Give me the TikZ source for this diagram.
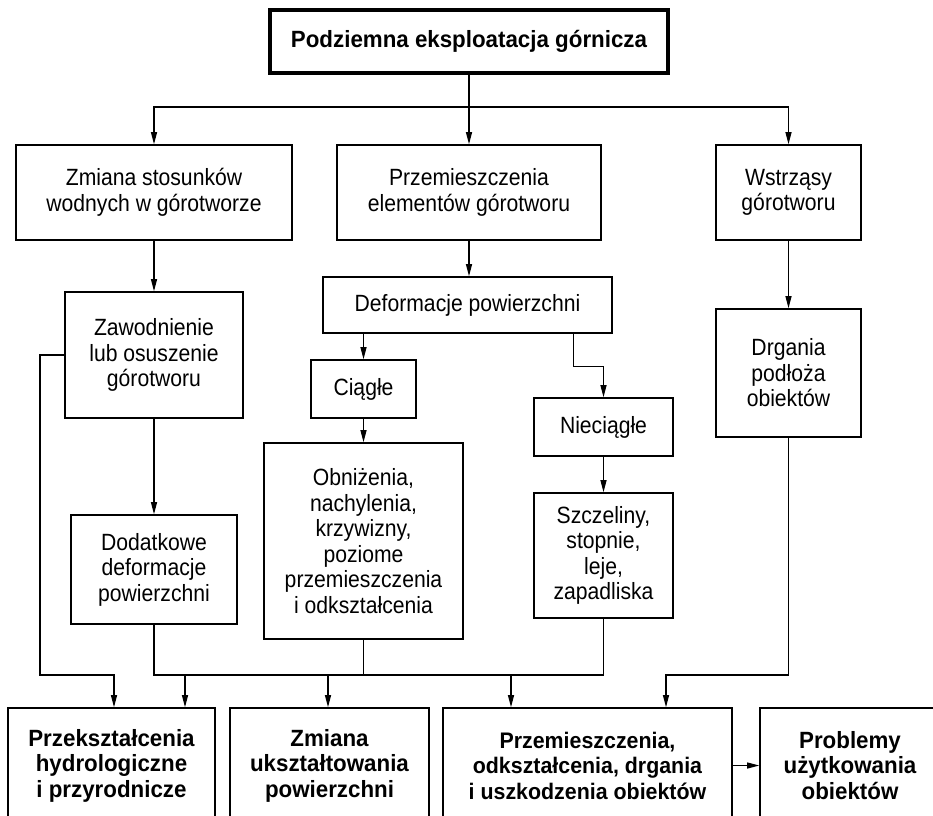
\documentclass[tikz,border=0pt]{standalone}
\usepackage{fontspec}
\setmainfont{Liberation Sans}[FakeStretch=0.9,BoldFeatures={FakeStretch=0.95}]
\usetikzlibrary{arrows.meta}
\begin{document}
\begin{tikzpicture}[y=-1pt,x=1pt,>={Triangle[length=12pt,width=6pt]}]
        \tikzset{
            box/.style={draw=black,line width=1.6pt,align=center,inner sep=0pt,font=\fontsize{23.5}{25.5}\selectfont},
            result/.style={box,font=\fontsize{23.5}{25.5}\selectfont\bfseries,minimum height=115pt},
            link/.style={line width=1.1pt}
        }
        \useasboundingbox (0,0) rectangle (933,815);

        \node[box,line width=3.5pt,font=\fontsize{23.5}{25.5}\selectfont\bfseries,minimum width=398pt,minimum height=63pt] (mining) at (469,41.5) {Podziemna eksploatacja górnicza};

        \node[box,minimum width=276pt,minimum height=95pt] (water) at (154,192.5) {Zmiana stosunków\\wodnych w górotworze};
        \node[box,minimum width=264pt,minimum height=95pt] (shift) at (469,192.5) {Przemieszczenia\\elementów górotworu};
        \node[box,minimum width=145pt,minimum height=95pt] (quake) at (788.5,192.5) {Wstrząsy\\górotworu};

        \node[box,minimum width=178pt,minimum height=126pt] (flood) at (154,355) {Zawodnienie\\lub osuszenie\\górotworu};
        \node[box,minimum width=289pt,minimum height=56pt] (deform) at (467.5,305) {Deformacje powierzchni};
        \node[box,minimum width=145pt,minimum height=128pt] (vibr) at (788.5,373) {Drgania\\podłoża\\obiektów};
        \node[box,minimum width=105pt,minimum height=58pt] (cont) at (363.5,389) {Ciągłe};
        \node[box,minimum width=139pt,minimum height=58pt] (discont) at (603.5,427) {Nieciągłe};
        \node[box,minimum width=199pt,minimum height=196pt] (subs) at (363.5,541) {Obniżenia,\\nachylenia,\\krzywizny,\\poziome\\przemieszczenia\\i odkształcenia};
        \node[box,minimum width=139pt,minimum height=125pt] (cracks) at (603.5,555.5) {Szczeliny,\\stopnie,\\leje,\\zapadliska};
        \node[box,minimum width=166pt,minimum height=109pt] (extra) at (154,569.5) {Dodatkowe\\deformacje\\powierzchni};

        \node[result,minimum width=207pt] (hydro) at (111.5,765.5) {Przekształcenia\\hydrologiczne\\i przyrodnicze};
        \node[result,minimum width=199pt] (relief) at (329.5,765.5) {Zmiana\\ukształtowania\\powierzchni};
        \node[result,minimum width=289pt,font=\fontsize{22.5}{25.5}\selectfont\bfseries] (damage) at (587.5,765.5) {Przemieszczenia,\\odkształcenia, drgania\\i uszkodzenia obiektów};
        \node[result,minimum width=180pt] (usage) at (850,765.5) {Problemy\\użytkowania\\obiektów};

        \coordinate (split) at (469,107);
        \draw[link] (mining) -- (split);
        \draw[link,->] (split) -| (water.north);
        \draw[link,->] (split) -- (shift);
        \draw[link,->] (split) -| (quake.north);

        \draw[link,->] (water) -- (flood);
        \draw[link,->] (shift) -- (shift |- deform.north);
        \draw[link,->] (quake) -- (vibr);
        \draw[link,->] (deform.south -| cont) -- (cont);
        \draw[link,->] ([xshift=-39pt]deform.south east) -- ++(0,33) -| (discont.north);
        \draw[link,->] (cont) -- (subs);
        \draw[link,->] (discont) -- (cracks);
        \draw[link,->] (flood) -- (extra);

        \coordinate (busL) at (154,675);
        \coordinate (busR) at (603.5,675);
        \coordinate (wet) at (40,675);
        \coordinate (in1) at (114,675);
        \coordinate (in2) at (185,675);
        \coordinate (in3) at (328,675);
        \coordinate (in4) at (511,675);
        \coordinate (in5) at (666,675);
        \draw[link] (extra) -- (busL) -- (busR) -- (cracks);
        \draw[link] (subs) -- (subs |- busL);
        \draw[link,->] (flood.west) -| (wet) -- (in1) -- (in1 |- hydro.north);
        \draw[link,->] (in2) -- (in2 |- hydro.north);
        \draw[link,->] (in3) -- (in3 |- relief.north);
        \draw[link,->] (in4) -- (in4 |- damage.north);
        \draw[link,->] (vibr) |- (in5) -- (in5 |- damage.north);
        \draw[link,->] (damage) -- (usage);
    \end{tikzpicture}
\end{document}
